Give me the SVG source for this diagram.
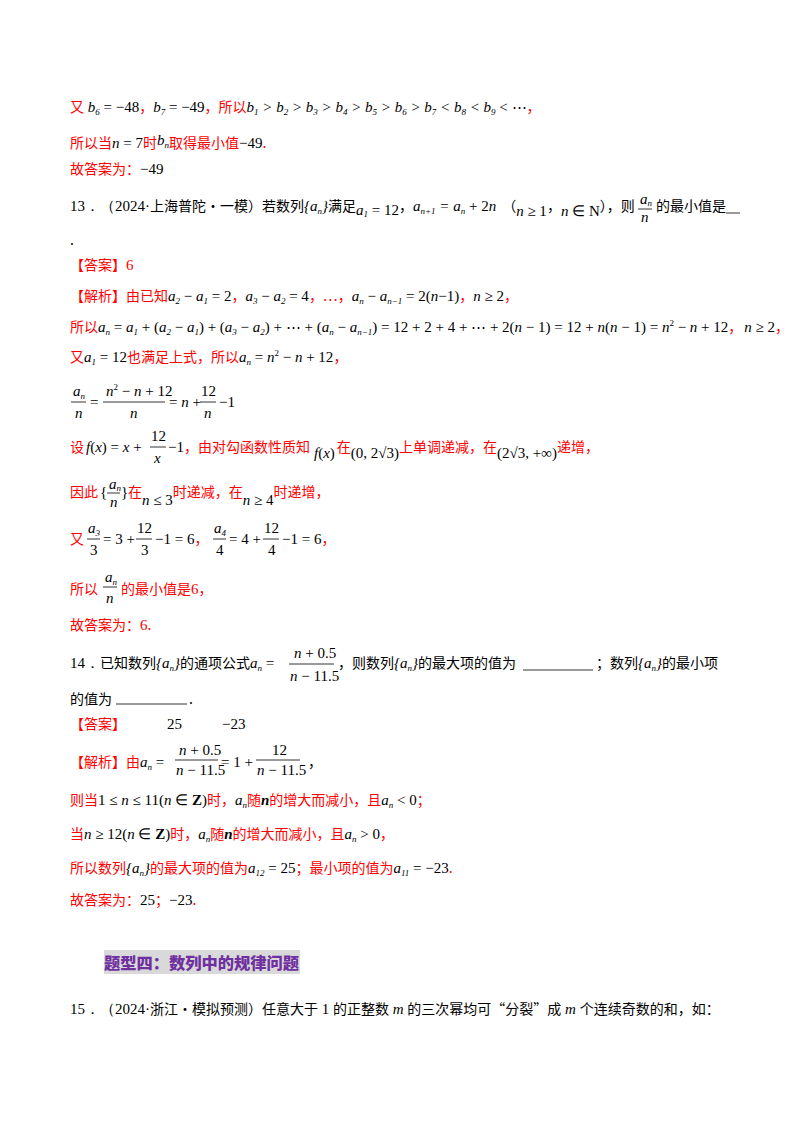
<svg xmlns="http://www.w3.org/2000/svg" width="800" height="1132" viewBox="0 0 800 1132">
<style>
text{font-family:"Noto Sans CJK SC",sans-serif;font-size:14px;fill:#000}
.r{fill:#ff0000}
.m{font-family:"Liberation Serif",serif;font-style:italic;font-size:15px}
.u{font-family:"Liberation Serif",serif;font-style:normal;font-size:15px}
.s{font-size:9px}
.k{fill:#000}
.t{fill:#7030a0;font-weight:900;font-size:16px}
line{stroke:#000;stroke-width:0.8}
</style>
<rect width="800" height="1132" fill="#fff"/>
<g id="l1"><text x="70" y="112" class="r">又<tspan class="m k"> b<tspan class="s" dy="3">6</tspan><tspan dy="-3" class="u"> = −48</tspan></tspan>，<tspan class="m k">b<tspan class="s" dy="3">7</tspan><tspan dy="-3" class="u"> = −49</tspan></tspan>，所以<tspan class="m k">b<tspan class="s" dy="3">1</tspan><tspan dy="-3"> &gt; b</tspan><tspan class="s" dy="3">2</tspan><tspan dy="-3"> &gt; b</tspan><tspan class="s" dy="3">3</tspan><tspan dy="-3"> &gt; b</tspan><tspan class="s" dy="3">4</tspan><tspan dy="-3"> &gt; b</tspan><tspan class="s" dy="3">5</tspan><tspan dy="-3"> &gt; b</tspan><tspan class="s" dy="3">6</tspan><tspan dy="-3"> &gt; b</tspan><tspan class="s" dy="3">7</tspan><tspan dy="-3"> &lt; b</tspan><tspan class="s" dy="3">8</tspan><tspan dy="-3"> &lt; b</tspan><tspan class="s" dy="3">9</tspan><tspan dy="-3" class="u"> &lt; ⋯</tspan></tspan>，</text></g>
<g id="l2"><text x="70" y="148" class="r">所以当<tspan class="m k">n<tspan class="u"> = 7</tspan></tspan>时<tspan class="m k" dy="-3">b<tspan class="s" dy="3">n</tspan></tspan>取得最小值<tspan class="u k">−49</tspan>.</text></g>
<g id="l3"><text x="70" y="174" class="r">故答案为：<tspan class="u k">−49</tspan></text></g>
<g id="q13"><text x="70" y="211"><tspan class="u">13．（2024·</tspan>上海普陀·一模）若数列<tspan class="m">{a<tspan class="s" dy="3">n</tspan><tspan dy="-3">}</tspan></tspan>满足<tspan class="m" dy="4" font-size="12">a<tspan class="s" dy="2">1</tspan><tspan class="u" dy="-2" font-size="12"> = 12</tspan></tspan><tspan dy="-4">，</tspan><tspan class="m">a<tspan class="s" dy="3">n+1</tspan><tspan dy="-3"> = a</tspan><tspan class="s" dy="3">n</tspan><tspan dy="-3" class="u"> + 2</tspan>n</tspan><tspan dx="6">（</tspan><tspan class="m" dy="5">n<tspan class="u"> ≥ 1</tspan></tspan><tspan dy="-5">，</tspan><tspan class="m" dy="5">n<tspan class="u"> ∈ N</tspan></tspan><tspan dy="-5">），则</tspan></text>
<text x="640" y="204" class="m" font-size="13">a<tspan class="s" dy="2">n</tspan></text><line x1="638" y1="209" x2="652" y2="209"/><text x="641" y="222" class="m" font-size="13">n</text>
<text x="656" y="211">的最小值是</text>
<line x1="726" y1="213" x2="740" y2="213"/><text x="70" y="245">.</text></g>
<g id="a13"><text x="70" y="270" class="r">【答案】<tspan class="u">6</tspan></text>
<text x="70" y="301" class="r">【解析】由已知<tspan class="m k">a<tspan class="s" dy="3">2</tspan><tspan dy="-3" class="u"> − </tspan>a<tspan class="s" dy="3">1</tspan><tspan dy="-3" class="u"> = 2</tspan></tspan>，<tspan class="m k">a<tspan class="s" dy="3">3</tspan><tspan dy="-3" class="u"> − </tspan>a<tspan class="s" dy="3">2</tspan><tspan dy="-3" class="u"> = 4</tspan></tspan>，⋯，<tspan class="m k">a<tspan class="s" dy="3">n</tspan><tspan dy="-3" class="u"> − </tspan>a<tspan class="s" dy="3">n−1</tspan><tspan dy="-3" class="u"> = 2(</tspan>n<tspan class="u">−1)</tspan></tspan>，<tspan class="m k">n<tspan class="u"> ≥ 2</tspan></tspan>，</text>
<text x="70" y="332" class="r">所以<tspan class="m k">a<tspan class="s" dy="3">n</tspan><tspan dy="-3" class="u"> = </tspan>a<tspan class="s" dy="3">1</tspan><tspan dy="-3" class="u"> + (</tspan>a<tspan class="s" dy="3">2</tspan><tspan dy="-3" class="u"> − </tspan>a<tspan class="s" dy="3">1</tspan><tspan dy="-3" class="u">) + (</tspan>a<tspan class="s" dy="3">3</tspan><tspan dy="-3" class="u"> − </tspan>a<tspan class="s" dy="3">2</tspan><tspan dy="-3" class="u">) + ⋯ + (</tspan>a<tspan class="s" dy="3">n</tspan><tspan dy="-3" class="u"> − </tspan>a<tspan class="s" dy="3">n−1</tspan><tspan dy="-3" class="u">) = 12 + 2 + 4 + ⋯ + 2(</tspan>n<tspan class="u"> − 1) = 12 + </tspan>n<tspan class="u">(</tspan>n<tspan class="u"> − 1) = </tspan>n<tspan class="s u" dy="-6">2</tspan><tspan dy="6" class="u"> − </tspan>n<tspan class="u"> + 12</tspan></tspan>，<tspan class="m k" dx="2">n<tspan class="u"> ≥ 2</tspan></tspan>，</text>
<text x="70" y="362" class="r">又<tspan class="m k">a<tspan class="s" dy="3">1</tspan><tspan dy="-3" class="u"> = 12</tspan></tspan>也满足上式，所以<tspan class="m k">a<tspan class="s" dy="3">n</tspan><tspan dy="-3" class="u"> = </tspan>n<tspan class="s u" dy="-6">2</tspan><tspan dy="6" class="u"> − </tspan>n<tspan class="u"> + 12</tspan></tspan>，</text>
<g id="frac1"><text x="73" y="396" class="m">a<tspan class="s" dy="3">n</tspan></text><line x1="71" y1="402" x2="86" y2="402"/><text x="75" y="418" class="m">n</text>
<text x="90" y="407" class="u">=</text>
<text x="106" y="396" class="m">n<tspan class="s u" dy="-6">2</tspan><tspan dy="6" class="u"> − </tspan>n<tspan class="u"> + 12</tspan></text><line x1="103" y1="402" x2="165" y2="402"/><text x="130" y="418" class="m">n</text>
<text x="169" y="407" class="m"><tspan class="u">= </tspan>n<tspan class="u"> +</tspan></text>
<text x="201" y="396" class="u">12</text><line x1="200" y1="402" x2="216" y2="402"/><text x="204" y="418" class="m">n</text>
<text x="219" y="407" class="u">−1</text></g>
<g id="l_set"><text x="70" y="452" class="r">设<tspan class="m k" dx="2">f<tspan class="u">(</tspan>x<tspan class="u">) = </tspan>x<tspan class="u"> +</tspan></tspan></text>
<text x="151" y="441" class="u">12</text><line x1="150" y1="447" x2="166" y2="447"/><text x="154" y="463" class="m">x</text>
<text x="168" y="452" class="r"><tspan class="u k">−1</tspan>，由对勾函数性质知<tspan class="m k" dy="6" font-size="13" dx="4">f<tspan class="u" font-size="13">(</tspan>x<tspan class="u" font-size="13">)</tspan></tspan><tspan dy="-6" dx="2">在</tspan><tspan class="u k" dy="6">(0, 2√3)</tspan><tspan dy="-6">上单调递减，在</tspan><tspan class="u k" dy="6">(2√3, +∞)</tspan><tspan dy="-6">递增，</tspan></text></g>
<g id="l_yin"><text x="70" y="497" class="r">因此</text><text x="100" y="497" class="u">{</text>
<text x="109" y="489" class="m" font-size="12">a<tspan class="s" dy="2">n</tspan></text><line x1="107" y1="493" x2="120" y2="493"/><text x="110" y="507" class="m" font-size="13">n</text>
<text x="121" y="497" class="u">}</text>
<text x="128" y="497" class="r">在<tspan class="m k" dy="8" font-size="13">n<tspan class="u" font-size="13"> ≤ 3</tspan></tspan><tspan dy="-8">时递减，在</tspan><tspan class="m k" dy="8" font-size="13">n<tspan class="u" font-size="13"> ≥ 4</tspan></tspan><tspan dy="-8">时递增，</tspan></text></g>
<g id="l_you"><text x="70" y="544" class="r">又</text>
<text x="88" y="533" class="m">a<tspan class="s" dy="3">3</tspan></text><line x1="87" y1="539" x2="100" y2="539"/><text x="90" y="555" class="u">3</text>
<text x="103" y="544" class="u">= 3 +</text>
<text x="137" y="533" class="u">12</text><line x1="136" y1="539" x2="152" y2="539"/><text x="141" y="555" class="u">3</text>
<text x="155" y="544" class="u">−1 = 6<tspan class="r" font-family="Noto Sans CJK SC" font-size="14" font-style="normal">，</tspan></text>
<text x="214" y="533" class="m">a<tspan class="s" dy="3">4</tspan></text><line x1="213" y1="539" x2="226" y2="539"/><text x="216" y="555" class="u">4</text>
<text x="229" y="544" class="u">= 4 +</text>
<text x="264" y="533" class="u">12</text><line x1="263" y1="539" x2="279" y2="539"/><text x="268" y="555" class="u">4</text>
<text x="282" y="544" class="u">−1 = 6<tspan class="r" font-family="Noto Sans CJK SC" font-size="14" font-style="normal">，</tspan></text></g>
<g id="l_min"><text x="70" y="594" class="r">所以</text>
<text x="105" y="582" class="m">a<tspan class="s" dy="3">n</tspan></text><line x1="103" y1="587" x2="117" y2="587"/><text x="106" y="603" class="m">n</text>
<text x="121" y="594" class="r">的最小值是<tspan class="u">6</tspan>，</text></g>
<text x="70" y="630" class="r">故答案为：<tspan class="u">6</tspan>.</text></g>
<g id="q14"><text x="70" y="668"><tspan class="u">14．</tspan>已知数列<tspan class="m">{a<tspan class="s" dy="3">n</tspan><tspan dy="-3">}</tspan></tspan>的通项公式<tspan class="m">a<tspan class="s" dy="3">n</tspan><tspan dy="-3" class="u"> =</tspan></tspan></text>
<text x="294" y="658" class="m">n<tspan class="u"> + 0.5</tspan></text><line x1="289" y1="664" x2="334" y2="664"/><text x="290" y="681" class="m">n<tspan class="u"> − 11.5</tspan></text>
<text x="338" y="668">，则数列<tspan class="m">{a<tspan class="s" dy="3">n</tspan><tspan dy="-3">}</tspan></tspan>的最大项的值为</text>
<line x1="523" y1="670" x2="593" y2="670"/>
<text x="596" y="668">；数列<tspan class="m">{a<tspan class="s" dy="3">n</tspan><tspan dy="-3">}</tspan></tspan>的最小项</text>
<text x="70" y="704">的值为</text><line x1="116" y1="704" x2="187" y2="704"/><text x="189" y="704">.</text>
<text x="70" y="729" class="r">【答案】</text><text x="167" y="729" class="u">25</text><text x="222" y="729" class="u">−23</text>
<text x="70" y="767" class="r">【解析】由<tspan class="m k">a<tspan class="s" dy="3">n</tspan><tspan dy="-3" class="u"> =</tspan></tspan></text>
<text x="179" y="755" class="m">n<tspan class="u"> + 0.5</tspan></text><line x1="175" y1="760" x2="218" y2="760"/><text x="176" y="775" class="m">n<tspan class="u"> − 11.5</tspan></text>
<text x="221" y="767" class="u">= 1 +</text>
<text x="272" y="755" class="u">12</text><line x1="256" y1="760" x2="300" y2="760"/><text x="257" y="775" class="m">n<tspan class="u"> − 11.5</tspan></text>
<text x="308" y="767">，</text>
<text x="70" y="805" class="r">则当<tspan class="u k">1 ≤ <tspan class="m">n</tspan> ≤ 11(<tspan class="m">n</tspan> ∈ <tspan font-weight="bold">Z</tspan>)</tspan>时，<tspan class="m k">a<tspan class="s" dy="3">n</tspan></tspan><tspan dy="-3">随</tspan><tspan class="m k" font-weight="bold">n</tspan>的增大而减小，且<tspan class="m k">a<tspan class="s" dy="3">n</tspan><tspan dy="-3" class="u"> &lt; 0</tspan></tspan>；</text>
<text x="70" y="839" class="r">当<tspan class="u k"><tspan class="m">n</tspan> ≥ 12(<tspan class="m">n</tspan> ∈ <tspan font-weight="bold">Z</tspan>)</tspan>时，<tspan class="m k">a<tspan class="s" dy="3">n</tspan></tspan><tspan dy="-3">随</tspan><tspan class="m k" font-weight="bold">n</tspan>的增大而减小，且<tspan class="m k">a<tspan class="s" dy="3">n</tspan><tspan dy="-3" class="u"> &gt; 0</tspan></tspan>，</text>
<text x="70" y="873" class="r">所以数列<tspan class="m k">{a<tspan class="s" dy="3">n</tspan><tspan dy="-3">}</tspan></tspan>的最大项的值为<tspan class="m k">a<tspan class="s" dy="3">12</tspan><tspan dy="-3" class="u"> = 25</tspan></tspan>；最小项的值为<tspan class="m k">a<tspan class="s" dy="3">11</tspan><tspan dy="-3" class="u"> = −23</tspan></tspan>.</text>
<text x="70" y="905" class="r">故答案为：<tspan class="u k">25</tspan>；<tspan class="u k">−23</tspan>.</text></g>
<g id="section"><rect x="104" y="950" width="196" height="24" style="fill:#d9d9d9"/><text x="104" y="969" class="t" textLength="195" lengthAdjust="spacingAndGlyphs">题型四：数列中的规律问题</text></g>
<g id="q15"><text x="70" y="1014"><tspan class="u">15．（2024·</tspan>浙江·模拟预测）任意大于<tspan class="u"> 1 </tspan>的正整数<tspan class="m"> m </tspan>的三次幂均可“分裂”成<tspan class="m"> m </tspan>个连续奇数的和，如：</text></g>
</svg>
